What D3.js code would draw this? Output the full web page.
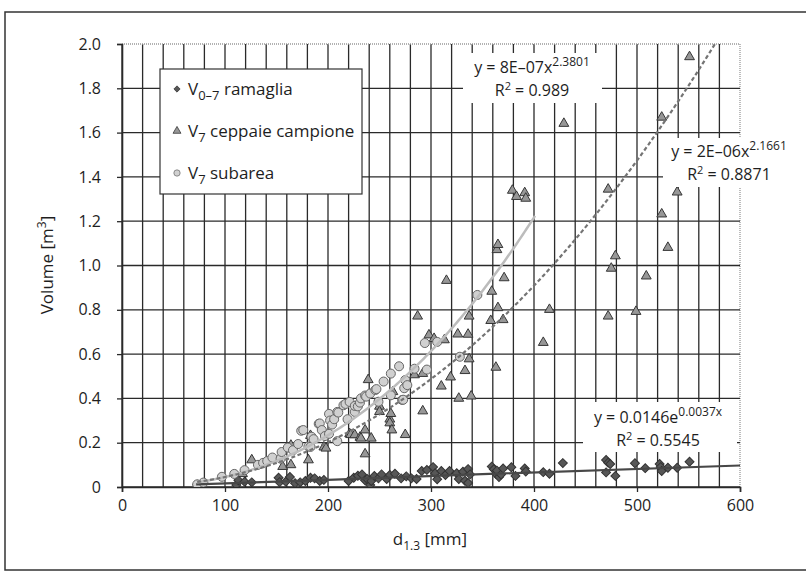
<!DOCTYPE html>
<html lang="it">
<head>
<meta charset="UTF-8">
<title>Volume - d1.3</title>
<script src="https://cdn.jsdelivr.net/npm/d3@7"></script>
<style>
  body { margin: 0; background: #fff; }
  svg { display: block; font-family: "Open Sans", sans-serif; fill: #1e1e1e; }
  .grid line { stroke: #2a2a2a; stroke-width: 1.3; }
  .grid line.edge { stroke: #999; stroke-dasharray: 1,1; }
  .tick text { font-size: 16px; fill: #1e1e1e; }
  .eq { font-size: 16px; }
  .legend { font-size: 17px; }
</style>
</head>
<body>
<svg width="806" height="572"></svg>
<script>
// [d1.3 mm, volume m3]
const ramaglia = [[73,0.01],[111,0.009],[113,0.03],[119,0.024],[126,0.021],[152,0.042],[153,0.022],[159,0.024],
  [163,0.045],[168,0.017],[173,0.021],[178,0.027],[183,0.042],[187,0.039],[192,0.027],[196,0.032],[220,0.027],
  [225,0.042],[229,0.051],[233,0.057],[236,0.03],[238,0.036],[241,0.009],[242,0.027],[245,0.05],[249,0.039],
  [252,0.057],[257,0.036],[260,0.054],[265,0.06],[271,0.039],[276,0.048],[281,0.039],[286,0.036],[291,0.072],
  [296,0.077],[302,0.09],[304,0.062],[306,0.035],[310,0.072],[314,0.054],[318,0.072],[325,0.062],[327,0.036],
  [331,0.069],[333,0.028],[336,0.081],[336,0.018],[338,0.057],[359,0.092],[361,0.08],[363,0.06],[364,0.074],
  [366,0.045],[368,0.056],[370,0.084],[378,0.089],[382,0.05],[391,0.084],[392,0.07],[409,0.067],[415,0.06],
  [428,0.108],[470,0.122],[472,0.11],[474,0.104],[470,0.066],[479,0.05],[498,0.107],[508,0.085],[522,0.104],
  [523,0.09],[524,0.072],[530,0.087],[539,0.087],[551,0.114]];

const ceppaie = [[73,0.005],[117,0.06],[126,0.122],[156,0.092],[164,0.1],[164,0.188],[181,0.122],[183,0.232],
  [196,0.18],[198,0.175],[221,0.24],[222,0.236],[226,0.235],[231,0.224],[232,0.22],[236,0.149],[236,0.257],
  [239,0.484],[242,0.22],[250,0.364],[250,0.34],[260,0.306],[260,0.289],[261,0.331],[262,0.257],[263,0.43],
  [275,0.236],[284,0.506],[287,0.771],[292,0.512],[292,0.343],[298,0.686],[303,0.67],[310,0.455],[313,0.664],
  [315,0.932],[319,0.496],[326,0.69],[327,0.4],[333,0.525],[336,0.689],[337,0.578],[337,0.771],[339,0.41],
  [358,0.751],[359,0.883],[363,0.54],[364,1.071],[365,1.094],[365,0.809],[370,0.755],[371,0.944],[379,1.339],
  [383,1.311],[391,1.328],[392,1.303],[409,0.652],[415,0.801],[429,1.641],[472,1.344],[472,0.771],[475,0.987],
  [479,1.043],[499,0.792],[509,0.952],[524,1.669],[524,1.232],[530,1.081],[539,1.331],[551,1.942]];

const subarea = [[73,0.012],[79,0.02],[97,0.046],[109,0.059],[119,0.076],[132,0.1],[137,0.109],[141,0.117],
  [146,0.133],[154,0.128],[155,0.158],[161,0.178],[166,0.166],[171,0.194],[174,0.254],[176,0.257],[181,0.183],
  [183,0.181],[184,0.227],[186,0.216],[191,0.285],[192,0.287],[194,0.257],[197,0.23],[201,0.24],[201,0.33],
  [202,0.3],[204,0.282],[206,0.306],[209,0.339],[209,0.207],[210,0.336],[215,0.369],[217,0.375],[219,0.306],
  [221,0.384],[226,0.339],[226,0.366],[229,0.364],[231,0.381],[232,0.4],[236,0.413],[237,0.408],[241,0.422],
  [246,0.438],[247,0.442],[249,0.385],[254,0.476],[261,0.414],[261,0.512],[269,0.545],[272,0.393],[273,0.394],
  [274,0.446],[275,0.483],[277,0.46],[284,0.534],[294,0.65],[296,0.53],[306,0.655],[328,0.588],[345,0.867]];

// trendline (exponential fit of ramaglia)
const ramagliaTrend = [[72,0.012],[200,0.032],[330,0.055],[600,0.097]];
// power fits y = a * x^b
const ceppaieFit = { a: 2.1e-6, b: 2.1661, from: 73, to: 580 };
const subareaFit = { a: 7.8e-7, b: 2.3801, from: 73, to: 402 };

const xTicks = [0, 100, 200, 300, 400, 500, 600];
const yTicks = [0, 0.2, 0.4, 0.6, 0.8, 1.0, 1.2, 1.4, 1.6, 1.8, 2.0];

const svg = d3.select("svg");
const x = d3.scaleLinear().domain([0, 600]).range([122, 740]);
const y = d3.scaleLinear().domain([0, 2]).range([487, 44]);

// outer frame
svg.append("rect").attr("x", 5).attr("y", 12).attr("width", 806).attr("height", 558)
  .attr("fill", "none").attr("stroke", "#333").attr("stroke-width", 1.5);

svg.append("clipPath").attr("id", "plot")
  .append("rect").attr("x", 122).attr("y", 44).attr("width", 618).attr("height", 443);

// grid
const grid = svg.append("g").attr("class", "grid");
grid.selectAll("line.v").data(d3.range(0, 601, 20)).join("line")
  .attr("class", d => d === 600 ? "v edge" : "v")
  .attr("x1", d => x(d)).attr("x2", d => x(d)).attr("y1", y(2)).attr("y2", y(0));
grid.selectAll("line.h").data(yTicks).join("line")
  .attr("class", d => d === 2 ? "h edge" : "h")
  .attr("x1", x(0)).attr("x2", x(600)).attr("y1", d => y(d)).attr("y2", d => y(d));

// axes
const yAxis = svg.append("g").attr("transform", `translate(${x(0)},0)`)
  .call(d3.axisLeft(y).tickValues(yTicks).tickSize(5).tickPadding(16)
    .tickFormat(d => d === 0 ? "0" : d3.format(".1f")(d)));
const xAxis = svg.append("g").attr("transform", `translate(0,${y(0)})`)
  .call(d3.axisBottom(x).tickValues(xTicks).tickSize(5).tickPadding(8).tickFormat(d3.format("d")));
[yAxis, xAxis].forEach(a => {
  a.select(".domain").attr("stroke", "#2a2a2a").attr("stroke-width", 1.6);
  a.selectAll(".tick line").attr("stroke", "#2a2a2a").attr("stroke-width", 1.3);
  a.attr("font-family", null).attr("font-size", null);
});

// axis titles
const yt = svg.append("text").attr("transform", "translate(53,265) rotate(-90)")
  .attr("text-anchor", "middle").attr("font-size", 17);
yt.append("tspan").text("Volume [m");
yt.append("tspan").attr("dy", -7).attr("font-size", 12).text("3");
yt.append("tspan").attr("dy", 7).text("]");

const xt = svg.append("text").attr("x", 430).attr("y", 545)
  .attr("text-anchor", "middle").attr("font-size", 17);
xt.append("tspan").text("d");
xt.append("tspan").attr("dy", 5).attr("font-size", 12).text("1.3");
xt.append("tspan").attr("dy", -5).text(" [mm]");

// markers
const diamond = d3.symbol().type(d3.symbolSquare).size(40)();
const triangle = d3.symbol().type(d3.symbolTriangle).size(42)();
const circle = d3.symbol().type(d3.symbolCircle).size(64)();
const styles = {
  ramaglia: { path: diamond, fill: "#575757", stroke: "#333", rot: 45 },
  ceppaie: { path: triangle, fill: "#979797", stroke: "#363636", rot: 0 },
  subarea: { path: circle, fill: "#d0d0d0", stroke: "#666", rot: 0 }
};

const plot = svg.append("g").attr("clip-path", "url(#plot)");
function drawSeries(data, s) {
  plot.append("g").selectAll("path").data(data).join("path")
    .attr("d", s.path)
    .attr("transform", d => `translate(${x(d[0])},${y(d[1])}) rotate(${s.rot})`)
    .attr("fill", s.fill).attr("stroke", s.stroke).attr("stroke-width", 1);
}
drawSeries(ramaglia, styles.ramaglia);
drawSeries(ceppaie, styles.ceppaie);
drawSeries(subarea, styles.subarea);

// trendlines
const line = d3.line().x(d => x(d[0])).y(d => y(d[1]));
const powerPts = f => d3.range(f.from, f.to + 1, 2).map(v => [v, f.a * Math.pow(v, f.b)]);
plot.append("path").datum(ramagliaTrend).attr("d", line)
  .attr("fill", "none").attr("stroke", "#474747").attr("stroke-width", 2.2);
plot.append("path").datum(powerPts(subareaFit)).attr("d", line)
  .attr("fill", "none").attr("stroke", "#bcbcbc").attr("stroke-width", 2.5);
plot.append("path").datum(powerPts(ceppaieFit)).attr("d", line)
  .attr("fill", "none").attr("stroke", "#747474").attr("stroke-width", 2.2).attr("stroke-dasharray", "4,2.5");

// equation labels
function eqLabel(box, cx, b1, parts, exp, r2) {
  svg.append("rect").attr("x", box[0]).attr("y", box[1]).attr("width", box[2]).attr("height", box[3])
    .attr("fill", "#fff");
  const t1 = svg.append("text").attr("class", "eq").attr("x", cx).attr("y", b1).attr("text-anchor", "middle");
  t1.append("tspan").text(parts);
  t1.append("tspan").attr("dy", -7).attr("font-size", 12).text(exp);
  const t2 = svg.append("text").attr("class", "eq").attr("x", cx).attr("y", b1 + 23).attr("text-anchor", "middle");
  t2.append("tspan").text("R");
  t2.append("tspan").attr("dy", -6).attr("font-size", 11).text("2");
  t2.append("tspan").attr("dy", 6).text(" = " + r2);
}
eqLabel([463, 53, 139, 50], 532, 73, "y = 8E–07x", "2.3801", "0.989");
eqLabel([663, 138, 143, 49], 729, 157, "y = 2E–06x", "2.1661", "0.8871");
eqLabel([583, 402, 154, 50], 658, 423, "y = 0.0146e", "0.0037x", "0.5545");

// legend
const lg = svg.append("g").attr("class", "legend");
lg.append("rect").attr("x", 160).attr("y", 69).attr("width", 202).attr("height", 125)
  .attr("fill", "#fff").attr("stroke", "#333").attr("stroke-width", 1.2);
const legendItems = [
  { s: styles.ramaglia, sub: "0–7", label: " ramaglia", scale: 0.7 },
  { s: styles.ceppaie, sub: "7", label: " ceppaie campione", scale: 0.8 },
  { s: styles.subarea, sub: "7", label: " subarea", scale: 0.7 }
];
legendItems.forEach((it, i) => {
  const by = 95 + i * 42;
  lg.append("path").attr("d", it.s.path)
    .attr("transform", `translate(177,${by - 6}) rotate(${it.s.rot}) scale(${it.scale})`)
    .attr("fill", it.s.fill).attr("stroke", it.s.stroke);
  const t = lg.append("text").attr("x", 188).attr("y", by);
  t.append("tspan").text("V");
  t.append("tspan").attr("dy", 5).attr("font-size", 13).text(it.sub);
  t.append("tspan").attr("dy", -5).text(it.label);
});
</script>
</body>
</html>
